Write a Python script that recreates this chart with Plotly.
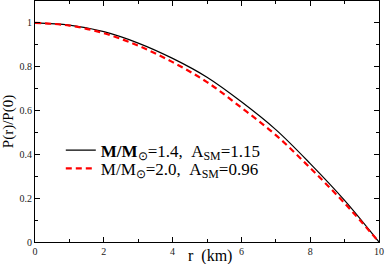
import plotly.graph_objects as go

r_km = [0, 1, 2, 3, 4, 5, 6, 7, 8, 9, 10]
p_14 = [1.0, 0.99, 0.96, 0.908, 0.838, 0.752, 0.64, 0.513, 0.358, 0.19, 0.0]
p_20 = [1.0, 0.988, 0.953, 0.896, 0.821, 0.73, 0.613, 0.488, 0.338, 0.177, 0.0]

label_14 = "<b>M/M</b><sub>⊙</sub>=1.4,&nbsp;&nbsp;A<sub>SM</sub>=1.15"
label_20 = "M/M<sub>⊙</sub>=2.0,&nbsp;&nbsp;A<sub>SM</sub>=0.96"

x_ticks = [0, 2, 4, 6, 8, 10]
y_ticks = [0, 0.2, 0.4, 0.6, 0.8, 1]
y_tick_text = ["0", "0.2", "0.4", "0.6", "0.8", "1"]

FONT = "Liberation Serif"

fig = go.Figure()
fig.add_trace(go.Scatter(x=r_km, y=p_14, mode="lines", name=label_14, legend="legend",
                         line=dict(color="black", width=1.2, shape="spline")))
fig.add_trace(go.Scatter(x=r_km, y=p_20, mode="lines", name=label_20, legend="legend2",
                         line=dict(color="#ff0000", width=2.2, dash="6px,4px", shape="spline")))

axis_common = dict(
    showline=True, linecolor="black", linewidth=1, mirror="allticks",
    ticks="inside", ticklen=5, tickwidth=1, tickcolor="black",
    showgrid=False, zeroline=False,
    tickfont=dict(family=FONT, size=10, color="#222"),
)

fig.update_xaxes(range=[0, 10], tickvals=x_ticks,
                 minor=dict(dtick=1, ticks="inside", ticklen=3, tickcolor="black", tickwidth=1),
                 **axis_common)
fig.update_yaxes(range=[0, 1.1], tickvals=y_ticks, ticktext=y_tick_text,
                 minor=dict(dtick=0.1, ticks="inside", ticklen=3, tickcolor="black", tickwidth=1),
                 title=dict(text="P(r)/P(0)", font=dict(family=FONT, size=15, color="black"), standoff=5),
                 **axis_common)

fig.add_annotation(text="r&nbsp;&nbsp;(km)", xref="paper", yref="paper", x=0.51, y=-0.102,
                   yanchor="bottom", showarrow=False,
                   font=dict(family=FONT, size=16, color="black"))

leg_common = dict(xanchor="left", yanchor="middle", bgcolor="rgba(0,0,0,0)",
                  font=dict(family=FONT, size=17, color="black"), itemwidth=30)

fig.update_layout(
    width=386, height=264,
    margin=dict(l=35, r=7, t=1, b=22),
    paper_bgcolor="white", plot_bgcolor="white",
    font=dict(family=FONT),
    showlegend=True,
    legend=dict(x=0.075, y=0.379, **leg_common),
    legend2=dict(x=0.075, y=0.304, **leg_common),
)

fig.write_html("out.html", config={"displayModeBar": False},
               post_script="document.body.style.margin='0';")
